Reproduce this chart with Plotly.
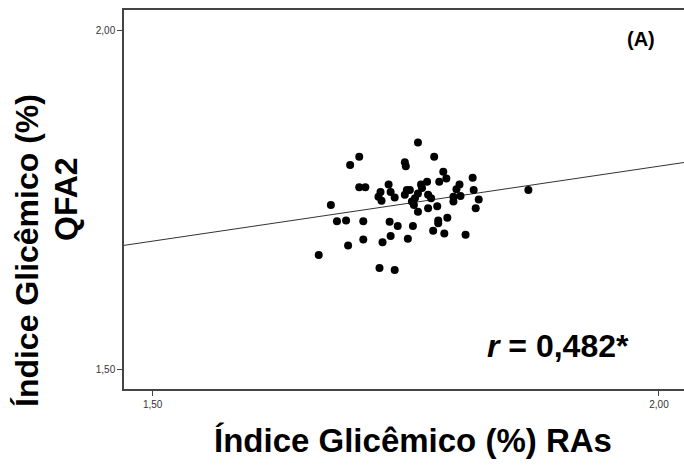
import plotly.graph_objects as go

# --- data ---
ras = [1.762, 1.704, 1.695, 1.778, 1.749, 1.750, 1.787, 1.790, 1.783, 1.771,
       1.765, 1.733, 1.816, 1.803, 1.704, 1.710, 1.725, 1.735, 1.751, 1.754,
       1.766, 1.800, 1.817, 1.871, 1.723, 1.726, 1.739, 1.749, 1.762, 1.772,
       1.775, 1.759, 1.756, 1.758, 1.797, 1.804, 1.797, 1.822, 1.676, 1.772,
       1.781, 1.762, 1.819, 1.682, 1.691, 1.708, 1.734, 1.742, 1.757, 1.782,
       1.791, 1.782, 1.777, 1.788, 1.809, 1.735, 1.708, 1.727, 1.752, 1.693,
       1.664, 1.724, 1.739]
qfa2 = [1.834, 1.813, 1.801, 1.813, 1.805, 1.799, 1.791, 1.781, 1.776, 1.776,
        1.772, 1.772, 1.782, 1.772, 1.768, 1.768, 1.761, 1.761, 1.764, 1.764,
        1.767, 1.765, 1.764, 1.764, 1.754, 1.748, 1.753, 1.757, 1.759, 1.757,
        1.752, 1.752, 1.747, 1.742, 1.754, 1.755, 1.747, 1.750, 1.742, 1.737,
        1.740, 1.732, 1.737, 1.718, 1.719, 1.718, 1.717, 1.711, 1.711, 1.719,
        1.723, 1.715, 1.704, 1.700, 1.698, 1.696, 1.691, 1.687, 1.692, 1.682,
        1.668, 1.649, 1.646]
fit_intercept = 1.3571
fit_slope = 0.221
tick_vals = [1.50, 2.00]
tick_text = ["1,50", "2,00"]
r_label = "<i>r</i> = 0,482*"
panel_label = "(A)"
x_title = "Índice Glicêmico (%) RAs"
y_title_1 = "Índice Glicêmico (%)"
y_title_2 = "QFA2"

W, H = 684, 466
ML, MR, MT, MB = 124, 0, 10, 77
x_range = [1.4717, 2.0247]
y_range = [1.4705, 2.0295]

def px_to_paper(px, py):
    return (px - ML) / (W - ML - MR), (H - MB - py) / (H - MT - MB)

fit_x = [x_range[0], x_range[1]]
fit_y = [fit_intercept + fit_slope * v for v in fit_x]

fig = go.Figure()
fig.add_trace(go.Scatter(x=fit_x, y=fit_y, mode="lines",
                         line=dict(color="#333333", width=1), hoverinfo="skip"))
fig.add_trace(go.Scatter(x=ras, y=qfa2, mode="markers",
                         marker=dict(color="black", size=8, line=dict(width=0))))

font = "Liberation Sans, Arial, sans-serif"

def label(text, px, py, size, angle=0):
    x, y = px_to_paper(px, py)
    return dict(text=text, x=x, y=y, xref="paper", yref="paper",
                xanchor="center", yanchor="middle", textangle=angle,
                showarrow=False, font=dict(size=size, color="black", family=font))

ann = [
    label(f"<b>{y_title_1}</b>", 27, 251, 32, -90),
    label(f"<b>{y_title_2}</b>", 66, 199, 32, -90),
    label(f"<b>{x_title}</b>", 413, 440, 33),
    label(f"<b>{r_label}</b>", 558, 346, 32),
    label(f"<b>{panel_label}</b>", 641, 39, 20),
]

fig.update_layout(
    width=W, height=H,
    margin=dict(l=ML, r=MR, t=MT, b=MB, pad=0),
    paper_bgcolor="white", plot_bgcolor="white",
    showlegend=False,
    font=dict(family=font, color="#333333", size=10),
    annotations=ann,
    xaxis=dict(range=x_range, tickvals=tick_vals, ticktext=tick_text,
               showgrid=False, zeroline=False, showline=True, mirror=True,
               linecolor="#444444", linewidth=1.5, ticks="outside", ticklen=5,
               tickcolor="#444444", tickfont=dict(size=10, color="#333333")),
    yaxis=dict(range=y_range, tickvals=tick_vals, ticktext=tick_text,
               showgrid=False, zeroline=False, showline=True, mirror=False,
               linecolor="#444444", linewidth=1.5, ticks="outside", ticklen=5,
               tickcolor="#444444", tickfont=dict(size=10, color="#333333")),
)
fig.write_html("out.html",
               config={"displayModeBar": False},
               post_script="document.body.style.margin='0';document.body.style.overflow='hidden';")
